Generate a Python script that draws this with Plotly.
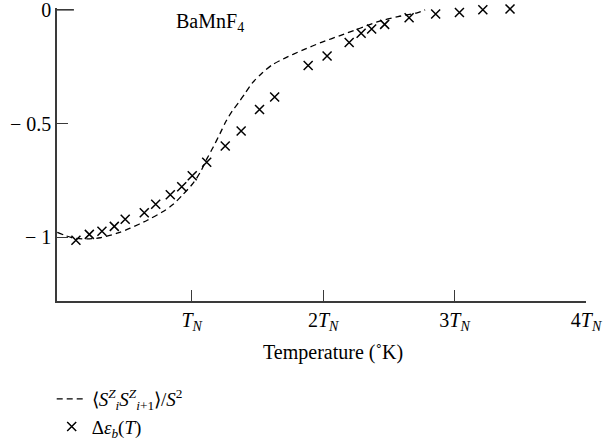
import plotly.graph_objects as go

# Dashed curve: <S_i^Z S_{i+1}^Z>/S^2  (x in units of T_N)
curve_x = [-0.023, 0.091, 0.205, 0.304, 0.433, 0.532, 0.662, 0.776, 0.859, 0.928,
           1.011, 1.065, 1.118, 1.163, 1.217, 1.262, 1.308, 1.354, 1.407, 1.460,
           1.536, 1.612, 1.696, 1.848, 1.992, 2.129, 2.281, 2.418, 2.570, 2.715, 2.776]
curve_y = [-0.978, -1.002, -1.007, -1.002, -0.982, -0.960, -0.925, -0.889, -0.855, -0.815,
           -0.762, -0.714, -0.652, -0.604, -0.542, -0.489, -0.445, -0.410, -0.366, -0.322,
           -0.278, -0.242, -0.216, -0.176, -0.142, -0.113, -0.081, -0.052, -0.030, -0.013, 0.000]

# Crosses: Delta eps_b(T)
cross_x = [0.119, 0.221, 0.317, 0.411, 0.494, 0.639, 0.726, 0.837, 0.924, 1.004,
           1.114, 1.255, 1.376, 1.516, 1.631, 1.886, 2.030, 2.198, 2.289, 2.369,
           2.468, 2.654, 2.856, 3.037, 3.215, 3.422]
cross_y = [-1.013, -0.987, -0.973, -0.952, -0.921, -0.892, -0.855, -0.813, -0.778, -0.729,
           -0.670, -0.599, -0.533, -0.438, -0.383, -0.245, -0.203, -0.144, -0.103, -0.084,
           -0.064, -0.035, -0.018, -0.012, 0.000, 0.004]

x_tickvals = [1, 2, 3, 4]
x_ticktext = ["<i>T</i><sub><i>N</i></sub>", "2<i>T</i><sub><i>N</i></sub>",
              "3<i>T</i><sub><i>N</i></sub>", "4<i>T</i><sub><i>N</i></sub>"]
y_tickvals = [0, -0.5, -1]
y_ticktext = ["0", "− 0.5", "− 1"]

FONT = "Liberation Serif"
AX = "#3a3a3a"
FS = 20

fig = go.Figure()
fig.add_trace(go.Scatter(
    x=curve_x, y=curve_y, mode="lines",
    line=dict(color="black", width=1.3, dash="6px,4px", shape="spline", smoothing=0.8),
    cliponaxis=False,
    name="⟨<i>S</i><sup><i>Z</i></sup><sub><i>i</i></sub><i>S</i><sup><i>Z</i></sup><sub><i>i</i>+1</sub>⟩/<i>S</i><sup>2</sup>",
))
fig.add_trace(go.Scatter(
    x=cross_x, y=cross_y, mode="markers",
    marker=dict(symbol="x-thin", size=9, color="black",
                line=dict(color="black", width=1.5)),
    cliponaxis=False,
    name="Δ<i>ε</i><sub><i>b</i></sub>(<i>T</i>)",
))

fig.update_layout(
    width=605, height=442,
    margin=dict(l=57, r=19, t=8, b=141, autoexpand=False),
    paper_bgcolor="white", plot_bgcolor="white",
    font=dict(family=FONT, size=FS, color="black"),
    showlegend=True,
    legend=dict(x=-0.01, y=-0.495, xanchor="left", yanchor="bottom",
                font=dict(family=FONT, size=19), tracegroupgap=0,
                bgcolor="rgba(0,0,0,0)"),
    xaxis=dict(range=[-0.025, 4.0], tickvals=x_tickvals, ticktext=x_ticktext,
               showline=True, linecolor=AX, linewidth=1.6, ticks="inside",
               ticklen=11, tickcolor=AX, tickwidth=1.3, showgrid=False,
               zeroline=False, tickfont=dict(family=FONT, size=FS),
               ticklabeloverflow="allow"),
    yaxis=dict(range=[-1.28, 0.008], tickvals=y_tickvals, ticktext=y_ticktext,
               showline=True, linecolor=AX, linewidth=1.6, ticks="inside",
               ticklen=11, tickcolor=AX, tickwidth=1.3, showgrid=False,
               zeroline=False, tickfont=dict(family=FONT, size=FS),
               ticklabeloverflow="allow"),
    annotations=[
        dict(text="BaMnF<sub>4</sub>", x=0.29, y=0.95, xref="paper", yref="paper",
             xanchor="center", yanchor="middle",
             showarrow=False, font=dict(family=FONT, size=FS)),
        dict(text="Temperature (˚K)", x=0.522, y=-0.175, xref="paper", yref="paper",
             xanchor="center", yanchor="middle",
             showarrow=False, font=dict(family=FONT, size=FS)),
    ],
    shapes=[dict(type="line", xref="paper", yref="y", x0=0, x1=0.032, y0=0, y1=0,
                 line=dict(color=AX, width=1.6))],
)

fig.write_html("out.html")
